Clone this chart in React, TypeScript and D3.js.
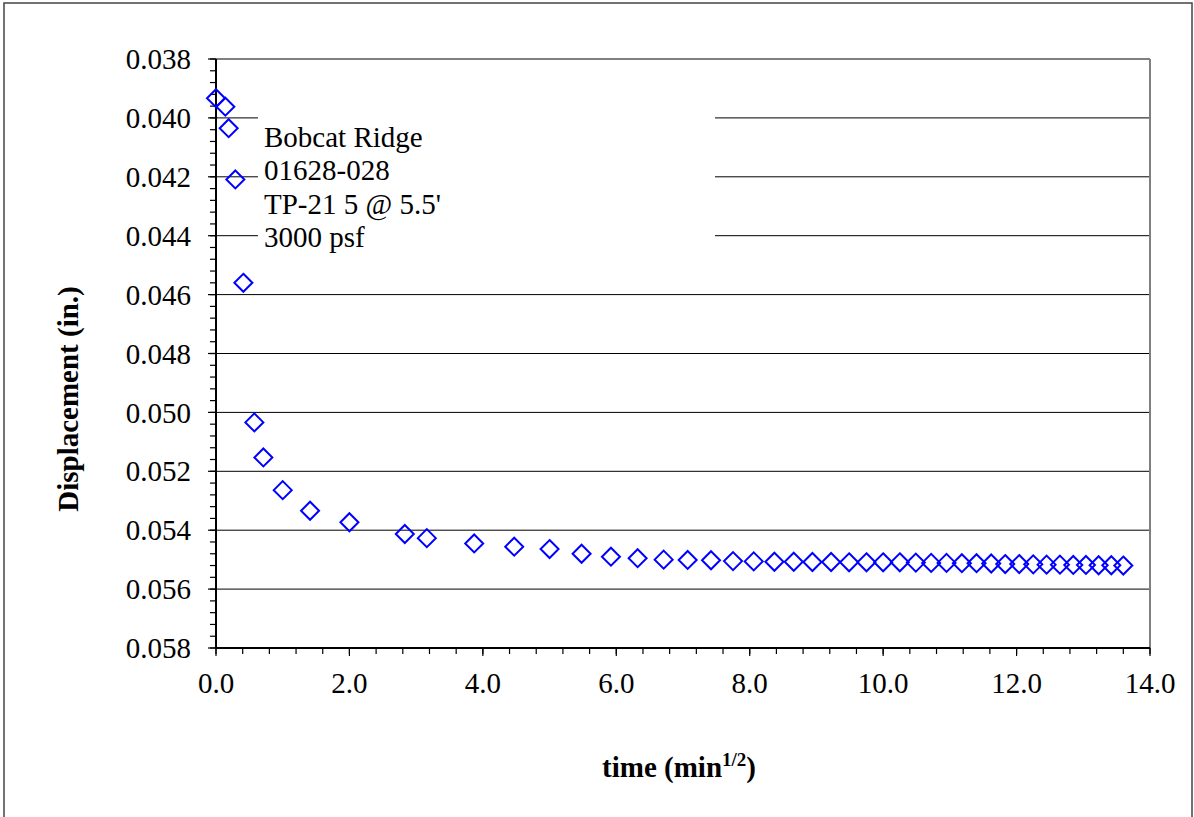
import React from "react";
import * as d3 from "d3";

// sqrt(time) in min^1/2
const timeSqrt = [
  0, 0.14, 0.19, 0.29, 0.41, 0.575, 0.71, 1.0, 1.41, 2.0, 2.83, 3.16, 3.87, 4.47, 5.0,
  5.48, 5.92, 6.32, 6.71, 7.07, 7.42, 7.75, 8.06, 8.37, 8.66, 8.94, 9.22, 9.49, 9.75,
  10.0, 10.25, 10.49, 10.72, 10.95, 11.18, 11.4, 11.62, 11.83, 12.04, 12.25, 12.45,
  12.65, 12.85, 13.04, 13.23, 13.42, 13.6,
];
const displacement = [
  0.03933, 0.03962, 0.04035, 0.04209, 0.0456, 0.05034, 0.05153, 0.05264, 0.05334,
  0.05373, 0.05413, 0.05427, 0.05445, 0.05456, 0.05464,
  0.0548, 0.0549, 0.05495, 0.055, 0.05501, 0.05502, 0.05505, 0.05506, 0.05507,
  0.05507, 0.05508, 0.05508, 0.05509, 0.05509, 0.05509, 0.05509, 0.0551, 0.05511,
  0.05511, 0.05512, 0.05512, 0.05513, 0.05515, 0.05515, 0.05516, 0.05517, 0.05517,
  0.05518, 0.05518, 0.05519, 0.05519, 0.0552,
];
const xTicks = [0, 2, 4, 6, 8, 10, 12, 14];
const yTicks = [0.038, 0.04, 0.042, 0.044, 0.046, 0.048, 0.05, 0.052, 0.054, 0.056, 0.058];
const labelLines = ["Bobcat Ridge", "01628-028", "TP-21 5 @ 5.5'", "3000 psf"];

const FONT = "'Liberation Serif', 'Times New Roman', serif";
const FS = 29;

export default function App() {
  const W = 1194, H = 817;
  const L = 216, R = 1150, T = 59, B = 648;
  const x = d3.scaleLinear().domain([0, 14]).range([L, R]);
  const y = d3.scaleLinear().domain([0.038, 0.058]).range([T, B]);
  const xMinor = d3.range(0, 14.0001, 0.4);
  const yMinor = d3.range(0.038, 0.05801, 0.0004);
  const pts = timeSqrt.map((t, i) => [x(t), y(displacement[i])]);
  const s = 9;
  const diamond = (cx: number, cy: number) =>
    `M${cx},${cy - s}L${cx + s},${cy}L${cx},${cy + s}L${cx - s},${cy}Z`;

  return (
    <svg width={W} height={H} style={{ position: "absolute", left: 0, top: 0, background: "#fff" }}>
      <rect x={4} y={3} width={1188} height={840} fill="#fff" stroke="#444" strokeWidth={1.5} />
      {/* gridlines */}
      {yTicks.slice(1, -1).map((v) => (
        <line key={"g" + v} x1={L} x2={R} y1={y(v)} y2={y(v)} stroke="#000" strokeWidth={1} />
      ))}
      {/* plot border top/right */}
      <line x1={L} x2={R} y1={T} y2={T} stroke="#808080" strokeWidth={2} />
      <line x1={R} x2={R} y1={T} y2={B} stroke="#808080" strokeWidth={2} />
      {/* label box */}
      <rect x={258} y={106} width={457} height={152} fill="#fff" />
      {labelLines.map((t, i) => (
        <text key={t} x={264} y={147 + i * 33.3} fontFamily={FONT} fontSize={FS} fill="#000">
          {t}
        </text>
      ))}
      {/* axes */}
      <line x1={L} x2={L} y1={T} y2={B} stroke="#000" strokeWidth={2} />
      <line x1={L} x2={R} y1={B} y2={B} stroke="#000" strokeWidth={2} />
      {yMinor.map((v, i) => (
        <line key={"ym" + i} x1={L - 6} x2={L} y1={y(v)} y2={y(v)} stroke="#000" strokeWidth={1.2} />
      ))}
      {yTicks.map((v) => (
        <g key={"yt" + v}>
          <line x1={L - 8} x2={L} y1={y(v)} y2={y(v)} stroke="#000" strokeWidth={1.2} />
          <text x={191} y={y(v)} dy="0.35em" textAnchor="end" fontFamily={FONT} fontSize={FS}>
            {v.toFixed(3)}
          </text>
        </g>
      ))}
      {xMinor.map((v, i) => (
        <line key={"xm" + i} x1={x(v)} x2={x(v)} y1={B} y2={B + 6} stroke="#000" strokeWidth={1.2} />
      ))}
      {xTicks.map((v) => (
        <g key={"xt" + v}>
          <line x1={x(v)} x2={x(v)} y1={B} y2={B + 8} stroke="#000" strokeWidth={1.2} />
          <text x={x(v)} y={693} textAnchor="middle" fontFamily={FONT} fontSize={FS}>
            {v.toFixed(1)}
          </text>
        </g>
      ))}
      {/* data */}
      {pts.map(([cx, cy], i) => (
        <path key={"p" + i} d={diamond(cx, cy)} fill="none" stroke="#0000FF" strokeWidth={2} />
      ))}
      {/* axis titles */}
      <text
        x={679}
        y={777}
        textAnchor="middle"
        fontFamily={FONT}
        fontSize={FS}
        fontWeight="bold"
      >
        time (min<tspan dy={-11} fontSize={19}>1/2</tspan>
        <tspan dy={11}>)</tspan>
      </text>
      <text
        transform={`translate(78,399) rotate(-90)`}
        textAnchor="middle"
        fontFamily={FONT}
        fontSize={FS}
        fontWeight="bold"
      >
        Displacement (in.)
      </text>
    </svg>
  );
}
